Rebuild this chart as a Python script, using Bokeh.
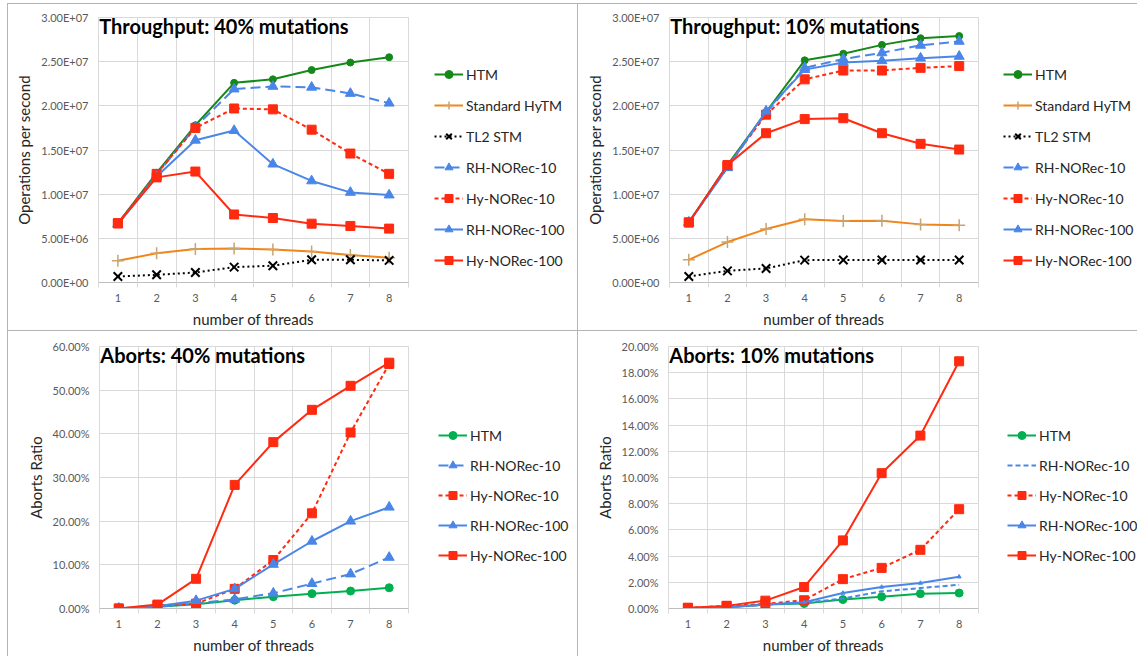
from bokeh.plotting import figure
from bokeh.models import (FixedTicker, CustomJSTickFormatter, NumeralTickFormatter,
                          Legend, LegendItem, Label, Range1d, GridBox, Row)
from bokeh.embed import file_html
from bokeh.resources import INLINE

# ---------------- data ----------------
threads = [1, 2, 3, 4, 5, 6, 7, 8]

# Throughput, 40% mutations (operations per second)
tp40_htm = [6.7e6, 12.4e6, 17.8e6, 22.6e6, 23.0e6, 24.05e6, 24.9e6, 25.5e6]
tp40_hytm = [2.46e6, 3.3e6, 3.8e6, 3.86e6, 3.74e6, 3.5e6, 3.1e6, 2.8e6]
tp40_tl2 = [0.68e6, 0.87e6, 1.13e6, 1.74e6, 1.9e6, 2.57e6, 2.57e6, 2.5e6]
tp40_rh10 = [6.6e6, 12.2e6, 17.6e6, 21.9e6, 22.2e6, 22.1e6, 21.4e6, 20.3e6]
tp40_hy10 = [6.7e6, 12.3e6, 17.5e6, 19.7e6, 19.6e6, 17.3e6, 14.6e6, 12.3e6]
tp40_rh100 = [6.6e6, 12.0e6, 16.1e6, 17.2e6, 13.4e6, 11.5e6, 10.2e6, 9.9e6]
tp40_hy100 = [6.7e6, 11.9e6, 12.56e6, 7.7e6, 7.3e6, 6.66e6, 6.4e6, 6.1e6]

# Throughput, 10% mutations
tp10_htm = [6.8e6, 13.3e6, 19.3e6, 25.15e6, 25.9e6, 26.9e6, 27.65e6, 27.9e6]
tp10_hytm = [2.57e6, 4.58e6, 6.05e6, 7.15e6, 6.96e6, 7.0e6, 6.58e6, 6.47e6]
tp10_tl2 = [0.68e6, 1.32e6, 1.59e6, 2.53e6, 2.55e6, 2.55e6, 2.55e6, 2.55e6]
tp10_rh10 = [6.8e6, 13.0e6, 19.2e6, 24.3e6, 25.3e6, 26.0e6, 26.85e6, 27.3e6]
tp10_hy10 = [6.8e6, 13.2e6, 19.0e6, 23.0e6, 24.0e6, 24.0e6, 24.3e6, 24.5e6]
tp10_rh100 = [6.8e6, 13.0e6, 19.4e6, 24.1e6, 24.9e6, 25.1e6, 25.4e6, 25.6e6]
tp10_hy100 = [6.8e6, 13.3e6, 16.9e6, 18.5e6, 18.6e6, 16.9e6, 15.7e6, 15.05e6]

# Aborts ratio, 40% mutations
ab40_htm = [0.0, 0.004, 0.010, 0.019, 0.027, 0.034, 0.040, 0.0475]
ab40_rh10 = [0.0, 0.004, 0.012, 0.021, 0.035, 0.057, 0.079, 0.117]
ab40_hy10 = [0.0, 0.007, 0.011, 0.045, 0.111, 0.218, 0.403, 0.560]
ab40_rh100 = [0.0, 0.005, 0.018, 0.045, 0.101, 0.154, 0.200, 0.232]
ab40_hy100 = [0.0, 0.009, 0.068, 0.283, 0.381, 0.455, 0.510, 0.563]

# Aborts ratio, 10% mutations
ab10_htm = [0.0, 0.001, 0.003, 0.0038, 0.0068, 0.009, 0.0113, 0.0118]
ab10_rh10 = [0.0, 0.001, 0.003, 0.0043, 0.0076, 0.0131, 0.0156, 0.0181]
ab10_hy10 = [0.0005, 0.002, 0.0035, 0.0063, 0.0224, 0.031, 0.0448, 0.0758]
ab10_rh100 = [0.0, 0.001, 0.003, 0.0048, 0.0118, 0.0164, 0.0194, 0.0242]
ab10_hy100 = [0.0005, 0.002, 0.006, 0.0164, 0.052, 0.1033, 0.132, 0.1887]

# ---------------- styles ----------------
FONT = "Lato"
GREEN_T = "#14891a"
GREEN_B = "#00b050"
ORANGE = "#f0851a"
TAN = "#c9a46e"
BLUE = "#4a86e8"
RED = "#ff2a0f"

E_FMT = CustomJSTickFormatter(code="""
const s = tick.toExponential(2);
const parts = s.split('e');
let e = parseInt(parts[1]);
const sign = e < 0 ? '-' : '+';
e = Math.abs(e);
return parts[0] + 'E' + sign + (e < 10 ? '0' + e : '' + e);
""")


def add_series(p, s, x, y):
    rs = [p.line(x, y, line_color=s["color"], line_width=2,
                 line_dash=s.get("dash", "solid"))]
    if s.get("marker"):
        rs.append(p.scatter(x, y, marker=s["marker"], size=s["size"],
                            fill_color=s.get("mcolor", s["color"]),
                            line_color=s.get("mcolor", s["color"]),
                            line_width=s.get("mlw", 1)))
    return rs


def make_panel(title, ylabel, yend, ystep, fmt, series, width, height,
               bl, bt, bb, leg_x, leg_y, spacing):
    fw = 310 if bl == 90 else 309
    pw = bl + fw + 2
    p = figure(width=pw, height=height, output_backend="svg", toolbar_location=None,
               min_border_left=bl, min_border_right=2, min_border_top=bt,
               min_border_bottom=bb, x_range=Range1d(0.5, 8.5), y_range=Range1d(0, yend))
    p.background_fill_color = "white"
    p.border_fill_color = "white"
    p.outline_line_color = "#d9d9d9"
    p.outline_line_width = 1

    n = int(round(yend / ystep))
    ticks = [round(i * ystep, 10) for i in range(n + 1)]
    p.yaxis.ticker = FixedTicker(ticks=ticks)
    p.yaxis.formatter = fmt
    p.yaxis.axis_line_color = None
    p.yaxis.major_tick_line_color = None
    p.yaxis.minor_tick_line_color = None
    p.yaxis.major_tick_in = 0
    p.yaxis.major_tick_out = 0
    p.yaxis.major_label_standoff = 10
    p.yaxis.axis_label = ylabel
    p.yaxis.axis_label_standoff = 5

    p.xaxis.ticker = FixedTicker(ticks=threads, minor_ticks=[t + 0.5 for t in range(0, 9)])
    p.xaxis.axis_line_color = "#bfbfbf"
    p.xaxis.major_tick_line_color = None
    p.xaxis.major_tick_in = 0
    p.xaxis.major_tick_out = 5
    p.xaxis.minor_tick_line_color = "#d9d9d9"
    p.xaxis.minor_tick_in = 0
    p.xaxis.minor_tick_out = 5
    p.xaxis.major_label_standoff = 6
    p.xaxis.axis_label = "number of threads"
    p.xaxis.axis_label_standoff = 5

    for ax in (p.xaxis, p.yaxis):
        ax.major_label_text_font = FONT
        ax.major_label_text_font_size = "11px"
        ax.major_label_text_color = "#595959"
        ax.axis_label_text_font = FONT
        ax.axis_label_text_font_size = "15px"
        ax.axis_label_text_font_style = "normal"
        ax.axis_label_text_color = "#262626"

    p.xgrid.ticker = FixedTicker(ticks=[t + 0.5 for t in range(1, 8)])
    p.xgrid.grid_line_color = "#d9d9d9"
    p.ygrid.grid_line_color = "#d9d9d9"

    for s in series:
        add_series(p, s, threads, s["y"])

    p.add_layout(Label(x=0.52, y=yend, text=title, text_baseline="top",
                       text_font=FONT, text_font_style="bold", text_font_size="20px",
                       text_color="black", y_offset=4))

    # legend lives in its own blank figure to the right of the plot;
    # its renderers reuse the series data but lie outside the visible range
    lf = figure(width=width - pw, height=height, output_backend="svg",
                toolbar_location=None, min_border=0, x_range=Range1d(-3, -2),
                y_range=Range1d(-3, -2), x_axis_type=None, y_axis_type=None)
    lf.outline_line_color = None
    lf.grid.visible = False
    lf.background_fill_color = "white"
    lf.border_fill_color = "white"
    items = []
    for s in series:
        rs = add_series(lf, s, threads, s["y"])
        items.append(LegendItem(label=s["name"], renderers=rs))
    leg = Legend(items=items, location=(leg_x, leg_y))
    leg.border_line_color = None
    leg.background_fill_alpha = 0
    leg.padding = 0
    leg.margin = 0
    leg.spacing = spacing
    leg.glyph_width = 29
    leg.glyph_height = 20
    leg.label_height = 20
    leg.label_standoff = 3
    leg.label_text_font = FONT
    leg.label_text_font_size = "14px"
    leg.label_text_color = "#262626"
    lf.add_layout(leg)
    return Row(children=[p, lf], spacing=0, styles={"background-color": "white"})


def top_series(htm, hytm, tl2, rh10, hy10, rh100, hy100):
    return [
        dict(name="HTM", y=htm, color=GREEN_T, marker="circle", size=7),
        dict(name="Standard HyTM", y=hytm, color=ORANGE, marker="cross", size=12,
             mcolor=TAN, mlw=1.5),
        dict(name="TL2 STM", y=tl2, color="black", dash="2 3", marker="x", size=12,
             mlw=2),
        dict(name="RH-NORec-10", y=rh10, color=BLUE, dash="10 5", marker="triangle", size=10),
        dict(name="Hy-NORec-10", y=hy10, color=RED, dash="4 3", marker="square", size=9),
        dict(name="RH-NORec-100", y=rh100, color=BLUE, marker="triangle", size=10),
        dict(name="Hy-NORec-100", y=hy100, color=RED, marker="square", size=9),
    ]


tl = make_panel("Throughput: 40% mutations", "Operations per second", 3e7, 5e6, E_FMT,
                top_series(tp40_htm, tp40_hytm, tp40_tl2, tp40_rh10, tp40_hy10,
                           tp40_rh100, tp40_hy100),
                569, 326, 90, 13, 47, 24, 12, 11)
tr = make_panel("Throughput: 10% mutations", "Operations per second", 3e7, 5e6, E_FMT,
                top_series(tp10_htm, tp10_hytm, tp10_tl2, tp10_rh10, tp10_hy10,
                           tp10_rh100, tp10_hy100),
                559, 326, 91, 13, 47, 23, 12, 11)

bl_series = [
    dict(name="HTM", y=ab40_htm, color=GREEN_B, marker="circle", size=8),
    dict(name="RH-NORec-10", y=ab40_rh10, color=BLUE, dash="10 5", marker="triangle", size=10),
    dict(name="Hy-NORec-10", y=ab40_hy10, color=RED, dash="4 3", marker="square", size=9),
    dict(name="RH-NORec-100", y=ab40_rh100, color=BLUE, marker="triangle", size=10),
    dict(name="Hy-NORec-100", y=ab40_hy100, color=RED, marker="square", size=9),
]
br_series = [
    dict(name="HTM", y=ab10_htm, color=GREEN_B, marker="circle", size=8),
    dict(name="RH-NORec-10", y=ab10_rh10, color=BLUE, dash="5 3"),
    dict(name="Hy-NORec-10", y=ab10_hy10, color=RED, dash="4 3", marker="square", size=9),
    dict(name="RH-NORec-100", y=ab10_rh100, color=BLUE, marker="triangle", size=4),
    dict(name="Hy-NORec-100", y=ab10_hy100, color=RED, marker="square", size=9),
]

bl = make_panel("Aborts: 40% mutations", "Aborts Ratio", 0.6, 0.1,
                NumeralTickFormatter(format="0.00%"), bl_series,
                569, 325, 91, 15, 45, 28, 43, 10)
br = make_panel("Aborts: 10% mutations", "Aborts Ratio", 0.2, 0.02,
                NumeralTickFormatter(format="0.00%"), br_series,
                559, 325, 90, 15, 45, 27, 43, 10)

grid = GridBox(children=[(tl, 0, 0), (tr, 0, 1), (bl, 1, 0), (br, 1, 1)], spacing=1,
               styles={"background-color": "#b4b4b4", "padding-left": "1px",
                       "padding-top": "1px", "margin-left": "7px", "margin-top": "3px"})

open("out.html", "w").write(file_html(grid, INLINE))
